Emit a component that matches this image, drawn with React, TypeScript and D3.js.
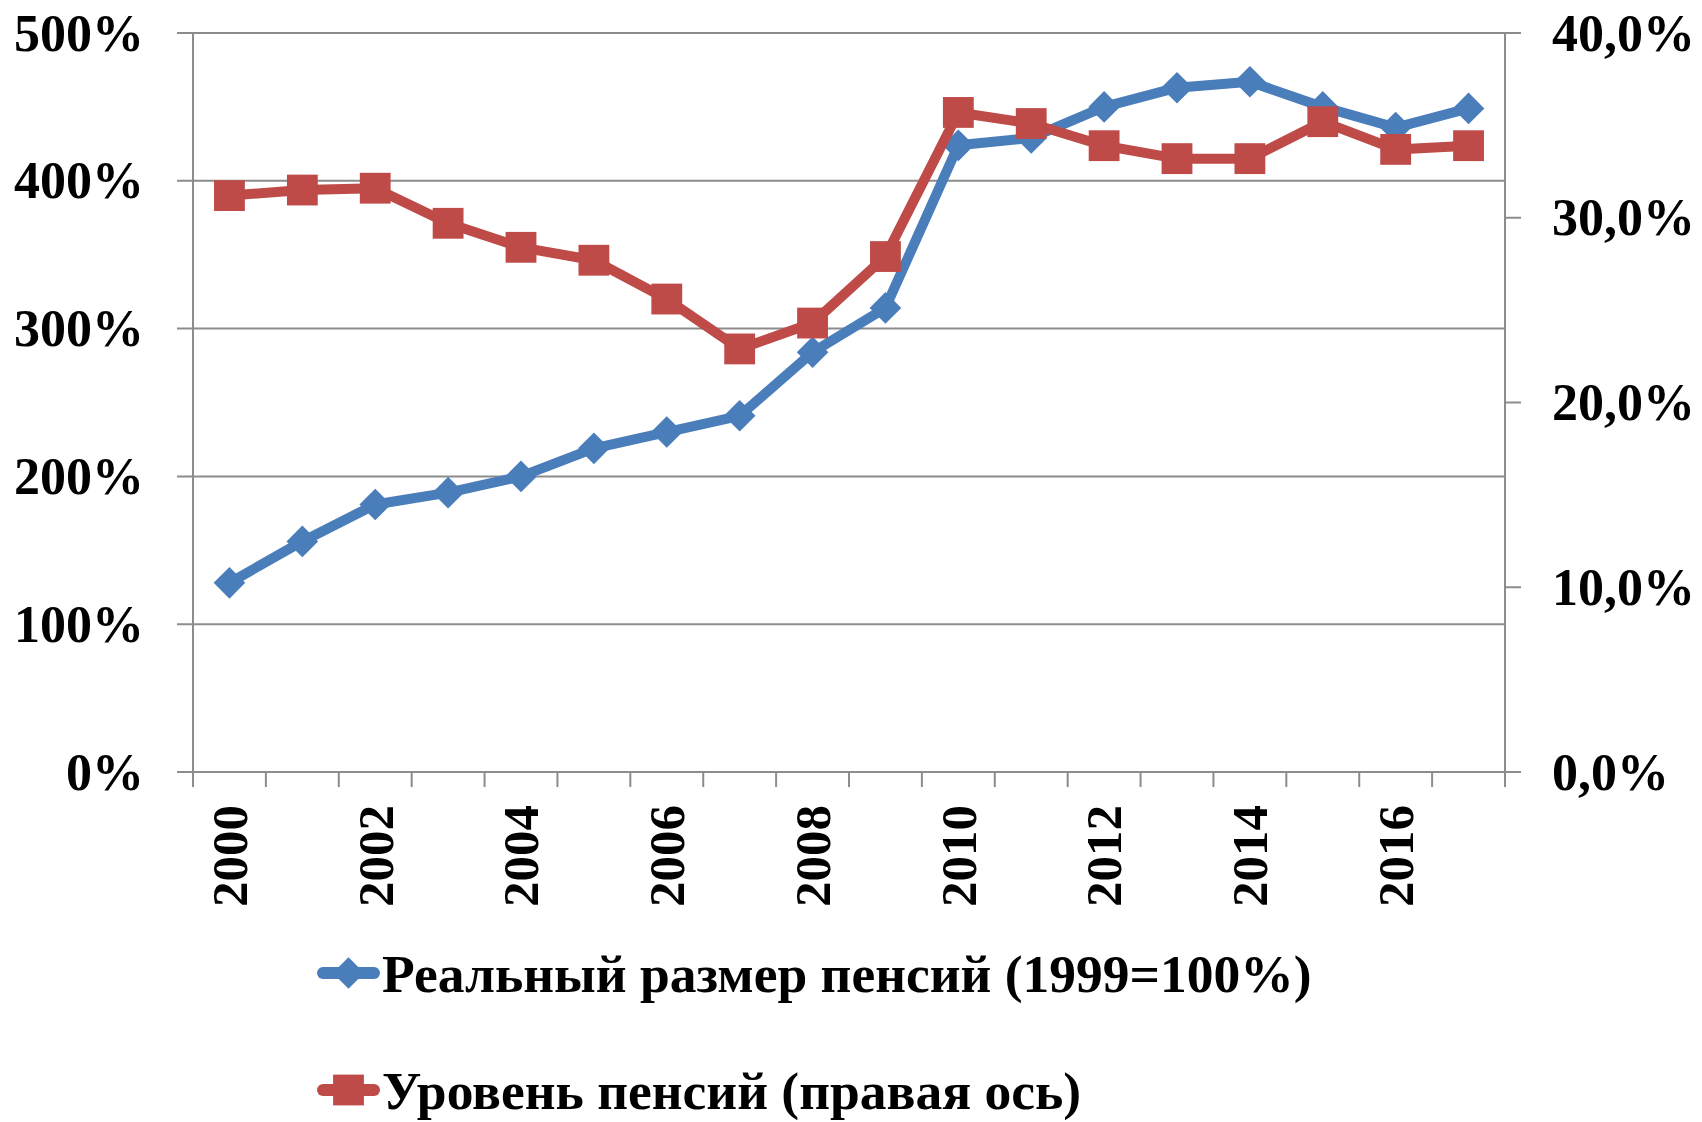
import React from "react";
import * as d3 from "d3";

const years = [
  2000, 2001, 2002, 2003, 2004, 2005, 2006, 2007, 2008, 2009, 2010, 2011,
  2012, 2013, 2014, 2015, 2016, 2017,
];
// реальный размер пенсий, 1999 = 1.0 (левая ось)
const realPension = [
  1.28, 1.56, 1.81, 1.89, 2.0, 2.19, 2.3, 2.41, 2.84, 3.14, 4.24, 4.29, 4.5,
  4.63, 4.67, 4.5, 4.36, 4.49,
];
// уровень пенсий (правая ось)
const pensionLevel = [
  0.312, 0.315, 0.316, 0.297, 0.284, 0.277, 0.256, 0.229, 0.243, 0.279, 0.357,
  0.351, 0.339, 0.332, 0.332, 0.352, 0.337, 0.339,
];
const leftTicks = [0, 1, 2, 3, 4, 5];
const rightTicks = [0, 0.1, 0.2, 0.3, 0.4];
const yearLabels = [2000, 2002, 2004, 2006, 2008, 2010, 2012, 2014, 2016];
const seriesNames = [
  "Реальный размер пенсий (1999=100%)",
  "Уровень пенсий (правая ось)",
];

const BLUE = "#4A7EBB";
const RED = "#BE4B48";
const GRID = "#8C8C8C";
const FONT = "'Liberation Serif', 'Times New Roman', serif";

export default function App() {
  const left = 193;
  const right = 1505;
  const top = 33;
  const bottom = 772;

  const x = d3.scaleBand<number>().domain(years).range([left, right]);
  const cx = (yr: number) => (x(yr) ?? 0) + x.bandwidth() / 2;
  const yL = d3.scaleLinear().domain([0, 5]).range([bottom, top]);
  const yR = d3.scaleLinear().domain([0, 0.4]).range([bottom, top]);

  const lineL = d3
    .line<number>()
    .x((_, i) => cx(years[i]))
    .y((d) => yL(d));
  const lineR = d3
    .line<number>()
    .x((_, i) => cx(years[i]))
    .y((d) => yR(d));

  const diamond = d3.symbol(d3.symbolSquare, 500)()!;
  const square = d3.symbol(d3.symbolSquare, 950)()!;

  const pctL = d3.format(".0%");
  const pctR = (v: number) => d3.format(".1%")(v).replace(".", ",");

  const tickEdges = years.map((yr) => x(yr) ?? 0).concat([right]);

  return (
    <svg
      width={1702}
      height={1122}
      style={{ position: "absolute", left: 0, top: 0, background: "#fff" }}
      fontFamily={FONT}
      fontWeight="bold"
    >
      {/* сетка и левые засечки */}
      {leftTicks.map((t) => (
        <line
          key={"g" + t}
          x1={left - 16}
          x2={t === 5 ? right + 16 : right}
          y1={yL(t)}
          y2={yL(t)}
          stroke={GRID}
          strokeWidth={2}
        />
      ))}
      <line x1={left} x2={left} y1={top} y2={bottom} stroke={GRID} strokeWidth={2} />
      <line x1={right} x2={right} y1={top} y2={bottom} stroke={GRID} strokeWidth={2} />
      {rightTicks.map((t) => (
        <line
          key={"r" + t}
          x1={right}
          x2={right + 16}
          y1={yR(t)}
          y2={yR(t)}
          stroke={GRID}
          strokeWidth={2}
        />
      ))}
      {tickEdges.map((e, i) => (
        <line key={"x" + i} x1={e} x2={e} y1={bottom} y2={bottom + 15} stroke={GRID} strokeWidth={2} />
      ))}

      {/* подписи осей */}
      {leftTicks.map((t) => (
        <text key={"lt" + t} x={144} y={yL(t)} dy="0.34em" textAnchor="end" fontSize={52}>
          {pctL(t)}
        </text>
      ))}
      {rightTicks.map((t) => (
        <text key={"rt" + t} x={1552} y={yR(t)} dy="0.34em" textAnchor="start" fontSize={52}>
          {pctR(t)}
        </text>
      ))}
      {yearLabels.map((yr) => (
        <text
          key={"yl" + yr}
          transform={`translate(${cx(yr)},805) rotate(-90)`}
          dy="0.34em"
          textAnchor="end"
          fontSize={51}
        >
          {yr}
        </text>
      ))}

      {/* ряды */}
      <path d={lineL(realPension) ?? ""} fill="none" stroke={BLUE} strokeWidth={10} strokeLinejoin="round" />
      {realPension.map((v, i) => (
        <path
          key={"d" + i}
          d={diamond}
          transform={`translate(${cx(years[i])},${yL(v)}) rotate(45)`}
          fill={BLUE}
        />
      ))}
      <path d={lineR(pensionLevel) ?? ""} fill="none" stroke={RED} strokeWidth={10} strokeLinejoin="round" />
      {pensionLevel.map((v, i) => (
        <path key={"s" + i} d={square} transform={`translate(${cx(years[i])},${yR(v)})`} fill={RED} />
      ))}

      {/* легенда */}
      {seriesNames.map((name, i) => {
        const ly = i === 0 ? 973 : 1090;
        return (
          <g key={"lg" + i}>
            <line x1={323} x2={374} y1={ly} y2={ly} stroke={i === 0 ? BLUE : RED} strokeWidth={12} strokeLinecap="round" />
            <path
              d={i === 0 ? diamond : square}
              transform={`translate(348.5,${ly})${i === 0 ? " rotate(45)" : ""}`}
              fill={i === 0 ? BLUE : RED}
            />
            <text x={382} y={ly} dy="0.36em" fontSize={53.5}>
              {name}
            </text>
          </g>
        );
      })}
    </svg>
  );
}
